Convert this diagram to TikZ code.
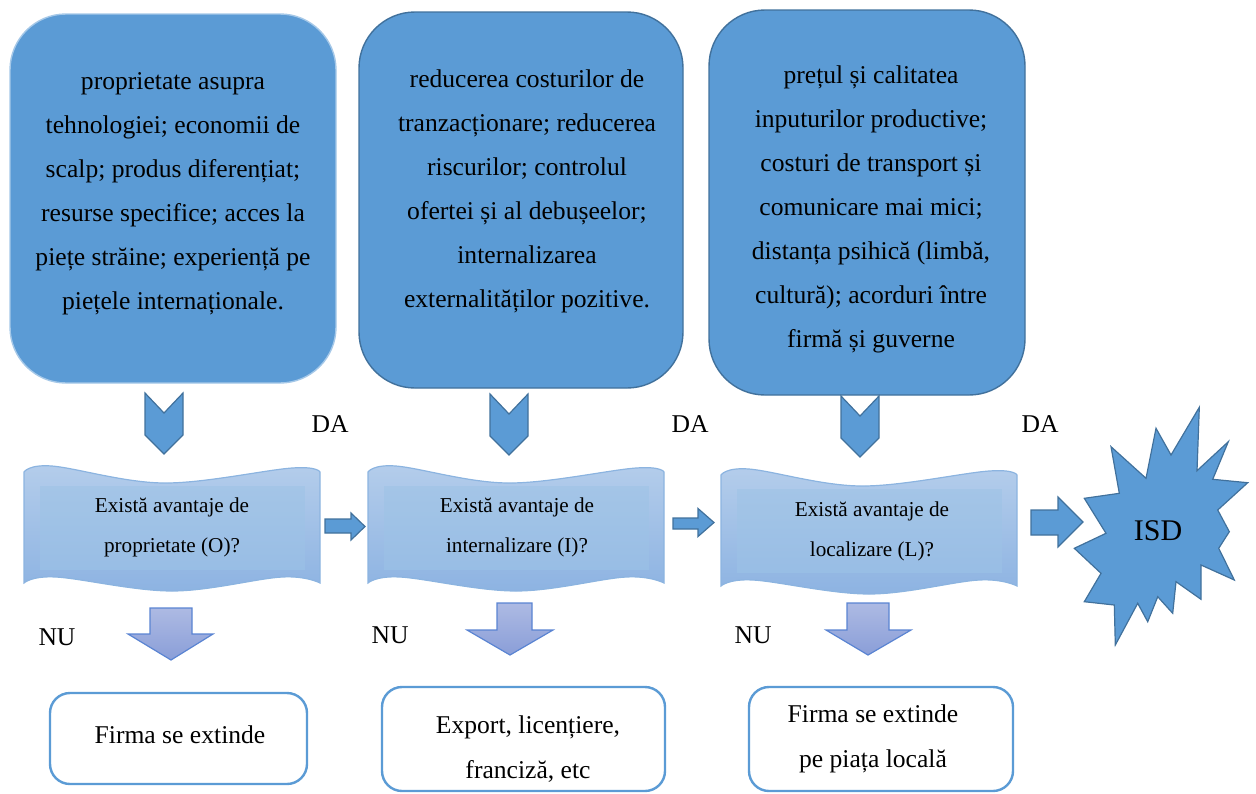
\documentclass[tikz,border=0pt]{standalone}
\usepackage{fontspec}
\setmainfont{Liberation Serif}
\definecolor{boxblue}{HTML}{5B9BD5}
\definecolor{edgeblue}{HTML}{41719C}
\definecolor{bantop}{HTML}{B4CDEB}
\definecolor{banbot}{HTML}{8DB3E2}
\definecolor{banedge}{HTML}{8CB4E0}
\definecolor{innerc}{HTML}{9DC3E6}
\definecolor{arrtop}{HTML}{ADBAE3}
\definecolor{arrbot}{HTML}{8A9ED8}
\definecolor{arredge}{HTML}{5A84D2}
\begin{document}
\begin{tikzpicture}[x=0.5pt,y=-0.5pt,
  topbox/.style={fill=boxblue, draw=edgeblue, line width=0.7pt, rounded corners=28pt},
  toptext/.style={align=center, inner sep=0pt, font=\fontsize{12.8pt}{22pt}\selectfont},
  bantext/.style={align=center, inner sep=0pt, font=\fontsize{10.6pt}{20pt}\selectfont},
  lbl/.style={inner sep=0pt, font=\fontsize{12.8pt}{15pt}\selectfont},
  chev/.style={fill=boxblue, draw=edgeblue, line width=0.6pt, line join=miter},
  rarrow/.style={fill=boxblue, draw=edgeblue, line width=0.6pt},
  darrow/.style={top color=arrtop, bottom color=arrbot, draw=arredge, line width=0.6pt},
  banner/.style={top color=bantop, bottom color=banbot, draw=banedge, line width=0.6pt},
  inner/.style={fill=innerc, fill opacity=0.55},
  outbox/.style={fill=white, draw=boxblue, line width=1.2pt, rounded corners=10pt},
  outtext/.style={align=center, inner sep=0pt, font=\fontsize{12.8pt}{22.5pt}\selectfont}]
\useasboundingbox (0,0) rectangle (1256,793);

% ---------- top boxes ----------
\draw[topbox, draw=boxblue!55!white] (10,14) rectangle (336,383);
\draw[topbox] (359,12) rectangle (683,388);
\draw[topbox] (709,10) rectangle (1025,395);

\node[toptext] (t1) at (173,194) {proprietate asupra\\tehnologiei; economii de\\scalp; produs diferențiat;\\resurse specifice; acces la\\piețe străine; experiență pe\\piețele internaționale.};
\node[toptext] (t2) at (527,191) {reducerea costurilor de\\tranzacționare; reducerea\\riscurilor; controlul\\ofertei și al debușeelor;\\internalizarea\\externalităților pozitive.};
\node[toptext] (t3) at (871,209) {prețul și calitatea\\inputurilor productive;\\costuri de transport și\\comunicare mai mici;\\distanța psihică (limbă,\\cultură); acorduri între\\firmă și guverne};

% ---------- chevrons ----------
\foreach \cx/\ty in {164/393, 509/394, 860/396}{
  \draw[chev] (\cx-19,\ty) -- (\cx,\ty+20) -- (\cx+19,\ty) -- (\cx+19,\ty+42)
     -- (\cx,\ty+61) -- (\cx-19,\ty+42) -- cycle;
}

% ---------- DA labels ----------
\node[lbl] (da1) at (330,424) {DA};
\node[lbl] (da2) at (690,424) {DA};
\node[lbl] (da3) at (1040,424) {DA};

% ---------- banners ----------
\foreach \bx/\by in {24/465, 368/465, 721/468}{
  \begin{scope}[shift={(\bx,\by)}]
    \draw[banner] plot[smooth, tension=0.6] coordinates {(0,7) (28,1) (140,18) (268,3) (296,7)}
      -- plot[smooth, tension=0.6] coordinates {(296,118) (258,112) (148,126) (32,112) (0,118)} -- cycle;
    \fill[inner] (16,21) rectangle (281,105);
  \end{scope}
}
\node[bantext] (q1) at (172,527) {Există avantaje de\\proprietate (O)?};
\node[bantext] (q2) at (517,527) {Există avantaje de\\internalizare (I)?};
\node[bantext] (q3) at (872,531) {Există avantaje de\\localizare (L)?};

% ---------- right arrows ----------
\draw[rarrow] (325,519) -- (351,519) -- (351,513) -- (365,526.5) -- (351,540) -- (351,533) -- (325,533) -- cycle;
\draw[rarrow] (673,518) -- (698,518) -- (698,508.5) -- (714,522.5) -- (698,536.5) -- (698,529) -- (673,529) -- cycle;
\draw[rarrow] (1031,510) -- (1058,510) -- (1058,497) -- (1083,522) -- (1058,547) -- (1058,535) -- (1031,535) -- cycle;

% ---------- ISD star ----------
\draw[chev, line join=miter] (1199.3,407.3) -- (1197,470.7) -- (1228.3,441.7) -- (1212.7,479.3)
  -- (1247.7,482.7) -- (1217.7,510) -- (1229.3,531.7) -- (1218.7,548.3) -- (1234.3,580)
  -- (1201,565) -- (1201,599.3) -- (1176,581.7) -- (1172.7,613.3) -- (1157.7,596.7)
  -- (1147.7,621.7) -- (1137.7,603.3) -- (1115.3,645) -- (1114.3,605) -- (1084.3,601.7)
  -- (1101,573.3) -- (1074.3,548.3) -- (1106,533.3) -- (1084.3,498.3) -- (1119.3,493.3)
  -- (1111,446.7) -- (1146,478.3) -- (1156,428.3) -- (1171,455) -- cycle;
\node[inner sep=0pt, font=\fontsize{15pt}{18pt}\selectfont] (isd) at (1158,531) {ISD};

% ---------- down arrows ----------
\draw[darrow] (150,608) -- (192,608) -- (192,634) -- (213,634) -- (171,660) -- (128,634) -- (150,634) -- cycle;
\draw[darrow] (497,603) -- (532,603) -- (532,630) -- (553,630) -- (510,655) -- (467,630) -- (497,630) -- cycle;
\draw[darrow] (847,603) -- (889,603) -- (889,630) -- (911,630) -- (868,655) -- (826,630) -- (847,630) -- cycle;

% ---------- NU labels ----------
\node[lbl] (nu1) at (57,637) {NU};
\node[lbl] (nu2) at (390,635) {NU};
\node[lbl] (nu3) at (753,635) {NU};

% ---------- outcome boxes ----------
\draw[outbox] (50,693) rectangle (307,784);
\draw[outbox] (382,687) rectangle (665,791);
\draw[outbox] (749,687) rectangle (1013,791);
\node[outtext] (o1) at (180,735) {Firma se extinde};
\node[outtext] (o2) at (528,749) {Export, licențiere,\\franciză, etc};
\node[outtext] (o3) at (873,739) {Firma se extinde\\pe piața locală};
\end{tikzpicture}
\end{document}
